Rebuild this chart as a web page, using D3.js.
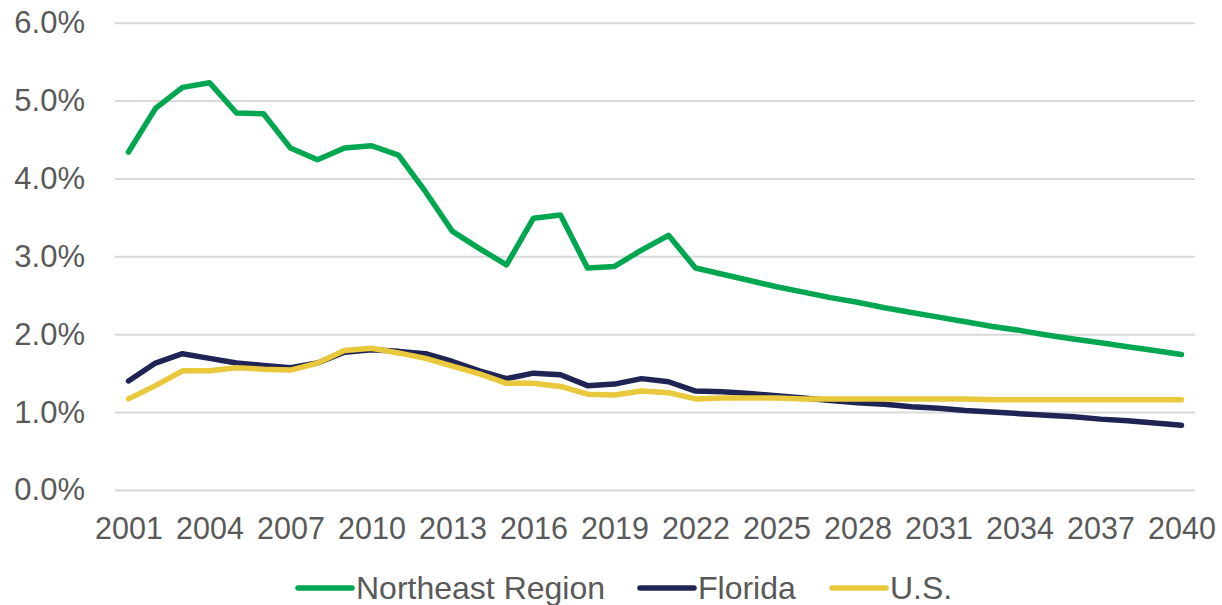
<!DOCTYPE html>
<html>
<head>
<meta charset="utf-8">
<script src="https://cdn.jsdelivr.net/npm/d3@7"></script>
<style>
  body { margin: 0; background: #fff; }
  text { font-family: "Liberation Sans", Arial, sans-serif; fill: #595959; }
</style>
</head>
<body>
<script>
// years on the category axis
const years = d3.range(2001, 2041);

// growth rates (percent)
const northeast = [4.34, 4.90, 5.17, 5.23, 4.84, 4.83, 4.39, 4.24, 4.39, 4.42,
  4.30, 3.83, 3.32, 3.10, 2.89, 3.49, 3.53, 2.85, 2.87, 3.08,
  3.27, 2.85, 2.77, 2.69, 2.61, 2.54, 2.47, 2.41, 2.34, 2.28,
  2.22, 2.16, 2.10, 2.05, 1.99, 1.94, 1.89, 1.84, 1.79, 1.74];
const florida = [1.40, 1.63, 1.75, 1.69, 1.63, 1.60, 1.57, 1.63, 1.77, 1.80,
  1.78, 1.75, 1.65, 1.53, 1.43, 1.50, 1.48, 1.34, 1.36, 1.43,
  1.39, 1.27, 1.26, 1.24, 1.21, 1.18, 1.15, 1.12, 1.10, 1.07,
  1.05, 1.02, 1.00, 0.98, 0.96, 0.94, 0.91, 0.89, 0.86, 0.83];
const us = [1.17, 1.34, 1.53, 1.53, 1.57, 1.55, 1.54, 1.63, 1.79, 1.82,
  1.76, 1.69, 1.59, 1.49, 1.37, 1.37, 1.33, 1.23, 1.22, 1.27,
  1.25, 1.17, 1.18, 1.18, 1.18, 1.17, 1.17, 1.17, 1.17, 1.17,
  1.17, 1.17, 1.16, 1.16, 1.16, 1.16, 1.16, 1.16, 1.16, 1.16];

const seriesNames = ["Northeast Region", "Florida", "U.S."];
const seriesColors = ["#00A650", "#1F2455", "#E9C83B"];
const yTicks = [0, 1, 2, 3, 4, 5, 6];
const xLabelYears = years.filter((d, i) => i % 3 == 0);

var width = 1222, height = 605;
// plot area edges (window.top is reserved, so prefixed names)
var plotLeft = 115, plotRight = 1195, plotTop = 22.7, plotBottom = 490;

var svg = d3.select("body").append("svg")
  .attr("width", width)
  .attr("height", height);

var x = d3.scalePoint()
  .domain(years)
  .range([plotLeft, plotRight])
  .padding(0.5);

var y = d3.scaleLinear()
  .domain([0, 6])
  .range([plotBottom, plotTop]);

// gridlines + y labels
var yAxis = svg.append("g")
  .attr("transform", `translate(${plotLeft},0)`)
  .call(d3.axisLeft(y).tickValues(yTicks).tickSize(-(plotRight - plotLeft)).tickPadding(30)
    .tickFormat(d => d.toFixed(1) + "%"));
yAxis.select(".domain").remove();
yAxis.selectAll("line").attr("stroke", "#d9d9d9").attr("stroke-width", 2);
yAxis.selectAll("text").style("font-size", "31px").attr("fill", "#595959");

// x labels
var xAxis = svg.append("g")
  .attr("transform", `translate(0,${plotBottom})`)
  .call(d3.axisBottom(x).tickValues(xLabelYears).tickSize(0).tickPadding(27));
xAxis.select(".domain").remove();
xAxis.selectAll("text").style("font-size", "30.5px").attr("fill", "#595959")
  .attr("dy", "0.71em");

var line = d3.line()
  .x((d, i) => x(years[i]))
  .y(d => y(d));

var allSeries = [northeast, florida, us];
// U.S. drawn last so it sits on top like the original
allSeries.forEach(function(s, i) {
  svg.append("path")
    .datum(s)
    .attr("d", line)
    .attr("fill", "none")
    .attr("stroke", seriesColors[i])
    .attr("stroke-width", 5.5)
    .attr("stroke-linejoin", "round")
    .attr("stroke-linecap", "round");
});

// legend
var legendX = [298, 640, 832];
var legend = svg.append("g").attr("transform", "translate(0,588)");
seriesNames.forEach(function(name, i) {
  legend.append("line")
    .attr("x1", legendX[i]).attr("x2", legendX[i] + 54)
    .attr("y1", 0).attr("y2", 0)
    .attr("stroke", seriesColors[i])
    .attr("stroke-width", 5.5)
    .attr("stroke-linecap", "round");
  legend.append("text")
    .attr("x", legendX[i] + 58)
    .attr("y", 0)
    .attr("dy", "0.35em")
    .style("font-size", "32px")
    .text(name);
});
</script>
</body>
</html>
